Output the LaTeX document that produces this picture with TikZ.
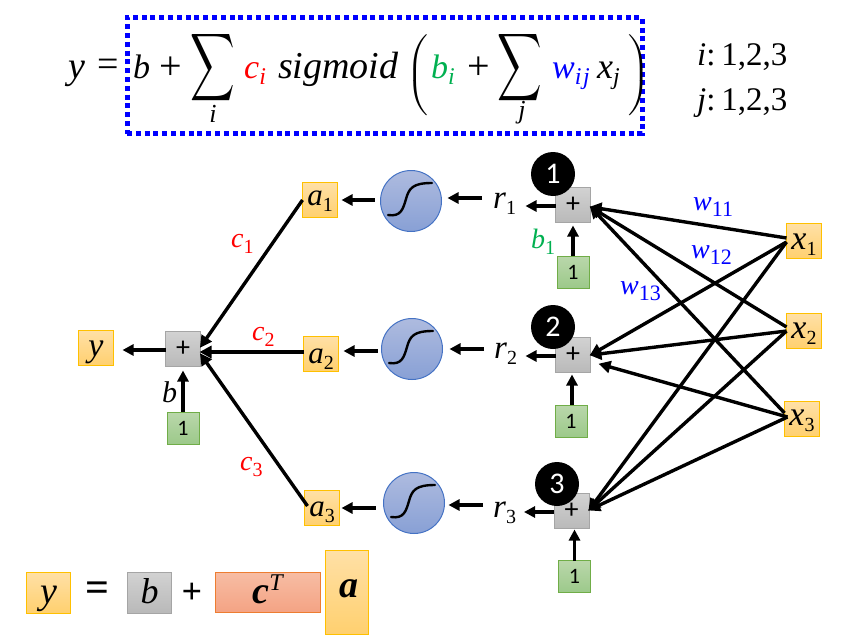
\RequirePackage{fix-cm}
\documentclass[tikz,border=0pt]{standalone}
\usepackage{amsmath}
\usepackage{fontspec}
\setmainfont{Liberation Serif}
\usetikzlibrary{arrows.meta}
\newfontfamily\calfont{Carlito}
\definecolor{myblue}{HTML}{0000FF}
\definecolor{mygreen}{HTML}{00B050}
\newcommand{\fs}[1]{\fontsize{#1}{#1}\selectfont}
\newcommand{\vs}[3][20]{\textit{#2}\raisebox{-6pt}{\fs{#1}#3}}
\newcommand{\sigcurve}[1]{\draw[line width=2.4pt,line cap=round,shift={(#1.center)}] (-23,14) .. controls (-10,16) and (-8,8) .. (-5,-2) .. controls (-2,-13) and (2,-18) .. (21,-18);}
\definecolor{orangeT}{HTML}{FFE0A6}
\definecolor{orangeB}{HTML}{FFD06F}
\definecolor{orangeD}{HTML}{FFC000}
\definecolor{grayT}{HTML}{D2D2D2}
\definecolor{grayB}{HTML}{B9B9B9}
\definecolor{grayD}{HTML}{A5A5A5}
\definecolor{greenT}{HTML}{BAD7AB}
\definecolor{greenB}{HTML}{9CC98A}
\definecolor{greenD}{HTML}{70AD47}
\definecolor{blueT}{HTML}{AEBBDF}
\definecolor{blueB}{HTML}{88A0D5}
\definecolor{blueD}{HTML}{4472C4}
\definecolor{salT}{HTML}{F7BDA4}
\definecolor{salB}{HTML}{F4A384}
\definecolor{salD}{HTML}{ED7D31}
\tikzset{
  x=1pt,y=-1pt,
  base/.style={inner sep=0pt,outer sep=0pt,minimum size=35pt,line width=1pt,font=\fs{31}},
  orangebox/.style={base,draw=orangeD,top color=orangeT,bottom color=orangeB},
  graybox/.style={base,draw=grayD,top color=grayT,bottom color=grayB,font=\calfont\fs{28}},
  greenbox/.style={base,minimum size=32pt,draw=greenD,top color=greenT,bottom color=greenB,font=\calfont\fs{22}},
  sigma/.style={circle,inner sep=0pt,outer sep=0pt,minimum size=61pt,line width=1pt,draw=blueD,top color=blueT,bottom color=blueB},
  badge/.style={circle,fill=black,text=white,inner sep=0pt,minimum size=44pt,font=\calfont\fs{30}},
  lab/.style={inner sep=0pt,anchor=base west,font=\fs{28}},
  eq/.style={inner sep=0pt,font=\fs{36}},
  eqb/.style={inner sep=0pt,anchor=base west,font=\fs{36}},
  bsh/.style={text depth=0pt,text height=#1},
  conn/.style={line width=3.4pt,-{Triangle[length=11pt,width=11pt]}},
  conm/.style={line width=3.4pt,-{Triangle[length=12pt,width=12pt]},shorten >=-1pt},
}
\begin{document}
\begin{tikzpicture}
\useasboundingbox (0,0) rectangle (853,642);
% formula
\node[draw=myblue,line width=5pt,dash pattern=on 5pt off 3.8pt,minimum width=515pt,minimum height=116pt,inner sep=0pt] (frame) at (384.5,75.5) {};
\node[eqb,font=\fs{38}] (fy) at (68,78) {\textit{y}};
\node[eq,font=\fs{38}] (feq) at (108,68) {=};
\node[eqb,font=\fs{34}] (fb) at (133,78) {\textit{b}};
\node[eq,font=\fs{40}] (fp1) at (171,68) {+};
\node[eq] (fs1) at (212.5,67.5) {\scalebox{1.24}[1.9]{$\displaystyle\sum$}};
\node[eq,anchor=base,font=\fs{26}] (fi) at (213,122) {\textit{i}};
\node[eqb,text=red,font=\fs{34}] (fc) at (244,78) {\vs[24]{c}{\textit{i}}};
\node[eqb,font=\fs{38}] (fsig) at (278,78) {\textit{sigmoid}};
\node[eq] (flp) at (417,75) {\scalebox{1}[0.78]{$\Bigg($}};
\node[eqb,text=mygreen,font=\fs{34}] (fbi) at (431,78) {\vs[24]{b}{\textit{i}}};
\node[eq,font=\fs{40}] (fp2) at (478.5,68) {+};
\node[eq] (fs2) at (520,67.5) {\scalebox{1.24}[1.9]{$\displaystyle\sum$}};
\node[eq,anchor=base,font=\fs{26}] (fj) at (522,118) {\textit{j}};
\node[eqb,text=myblue,font=\fs{34}] (fw) at (552,78) {\vs[24]{w}{\textit{i\kern1.5pt j}}};
\node[eqb] (fx) at (597,78) {\vs[24]{x}{\textit{j}}};
\node[eq] (frp) at (639,75) {\scalebox{1}[0.78]{$\Bigg)$}};
\node[eq,anchor=west,font=\fs{33}] (ri) at (697,57) {{\spaceskip=3pt\textit{i}: 1,2,3}};
\node[eq,anchor=west,font=\fs{33}] (rj) at (697,103) {{\spaceskip=3pt\textit{j}: 1,2,3}};
% left part
\node[orangebox,font=\fs{34},bsh=16pt] (y) at (96,348) {\textit{y}};
\node[graybox] (p0) at (183,349) {+};
\node[greenbox] (o0) at (183,428) {1};
\node[lab,font=\fs{30}] (lb) at (162,402) {\textit{b}};
\node[orangebox,bsh=10pt] (a1) at (320,200) {\vs{a}{1}};
\node[orangebox,bsh=18pt] (a2) at (321,354) {\vs{a}{2}};
\node[orangebox,bsh=16pt] (a3) at (322,508) {\vs{a}{3}};
\node[lab,text=red] (c1) at (231,247) {\vs{c}{1}};
\node[lab,text=red] (c2) at (252,340) {\vs{c}{2}};
\node[lab,text=red] (c3) at (240,470) {\vs{c}{3}};
\node[sigma] (s1) at (411,201) {};
\node[sigma] (s2) at (412,349) {};
\node[sigma] (s3) at (414,503) {};
\sigcurve{s1}\sigcurve{s2}\sigcurve{s3}
\node[lab,font=\fs{33}] (r1) at (493,208) {\vs{r}{1}};
\node[lab,font=\fs{33}] (r2) at (494,358) {\vs{r}{2}};
\node[lab,font=\fs{33}] (r3) at (493,517) {\vs{r}{3}};
\node[graybox] (p1) at (573,205) {+};
\node[graybox] (p2) at (573,355) {+};
\node[graybox] (p3) at (571.5,511) {+};
\node[greenbox] (o1) at (573,272) {1};
\node[greenbox] (o2) at (571,421) {1};
\node[greenbox] (o3) at (574.5,576.5) {1};
\node[badge] (n1) at (553,174) {1};
\node[badge] (n2) at (553,327) {2};
\node[badge] (n3) at (557,484) {3};
\node[orangebox,font=\fs{34},bsh=16pt] (x1) at (804,241) {\vs{x}{1}};
\node[orangebox,font=\fs{34},bsh=14pt] (x2) at (804,331) {\vs{x}{2}};
\node[orangebox,font=\fs{34},bsh=12pt] (x3) at (802,419) {\vs{x}{3}};
\node[lab,text=myblue] (w1) at (693,210) {\vs[22]{w}{11}};
\node[lab,text=myblue] (w2) at (691,258) {\vs[22]{w}{12}};
\node[lab,text=myblue] (w3) at (620,294) {\vs[22]{w}{13}};
\node[lab,text=mygreen] (b1) at (531,248) {\vs{b}{1}};
% connectors
\draw[conn] ([yshift=-1pt]p0.west) -- ([shift={(9,2)}]y.east);
\draw[conn] (o0.north) -- ([yshift=-4pt]p0.south);
\draw[conm] (a1.west) -- ([yshift=2pt]p0.east);
\draw[conm] ([yshift=2pt]a2.west) -- ([yshift=-3pt]p0.east);
\draw[conm] ([shift={(3,-2)}]a3.west) -- ([yshift=-5pt]p0.east);
\draw[conn] ([shift={(-6,-1)}]s1.west) -- ([xshift=4pt]a1.east);
\draw[conn] ([shift={(-4,2)}]s2.west) -- ([shift={(5,-3)}]a2.east);
\draw[conn] ([shift={(-8,5)}]s3.west) -- ([xshift=2pt]a3.east);
\draw[conn] ([shift={(-11,-10)}]r1.base west) -- ([shift={(6,-3)}]s1.east);
\draw[conn] ([shift={(-10,-9)}]r2.base west) -- ([xshift=7pt]s2.east);
\draw[conn] ([shift={(-10,-12)}]r3.base west) -- ([shift={(4,2)}]s3.east);
\draw[conn] ([yshift=-1pt]p1.west) -- +(-30,0);
\draw[conn] ([yshift=-1pt]p2.west) -- +(-30,0);
\draw[conn] ([yshift=-1pt]p3.west) -- +(-30,0);
\draw[conn] (o1.north) -- ([yshift=-3pt]p1.south);
\draw[conn] ([xshift=1pt]o2.north) -- ([shift={(-1,2)}]p2.south);
\draw[conn] (o3.north) -- ([xshift=3pt,yshift=-1pt]p3.south);
\draw[conm] ([yshift=3pt]x1.west) -- ([yshift=-2pt]p1.east);
\draw[conm] ([yshift=4pt]x2.west) -- ([yshift=-2pt]p1.east);
\draw[conm] ([yshift=6pt]x3.west) -- ([yshift=-2pt]p1.east);
\draw[conm] ([yshift=-1pt]x1.west) -- (p2.east);
\draw[conm] (x2.west) -- (p2.east);
\draw[conm] ([shift={(3,-2)}]x3.west) -- ([shift={(9,9)}]p2.east);
\draw[conm] ([yshift=-1pt]x1.west) -- ([yshift=1pt]p3.east);
\draw[conm] (x2.west) -- ([yshift=1pt]p3.east);
\draw[conm] ([shift={(3,-2)}]x3.west) -- ([yshift=1pt]p3.east);
% bottom row
\node[orangebox,minimum width=44pt,minimum height=41pt,font=\fs{38},bsh=21pt] (by) at (48.5,592.5) {\textit{y}};
\node[eq,font=\bfseries\fs{42}] (beq) at (97,592) {=};
\node[graybox,minimum width=44pt,minimum height=41pt,font=\fs{36},bsh=22pt] (bb) at (149.5,592.5) {\textit{b}};
\node[eq,font=\bfseries\fs{36}] (bp) at (192,593) {+};
\node[base,draw=salD,top color=salT,bottom color=salB,minimum width=105pt,minimum height=40pt,font=\bfseries\itshape\fs{38},bsh=22pt] (bc) at (267.5,592) {c\raisebox{13pt}{\mdseries\fs{24}T}};
\node[orangebox,minimum width=43pt,minimum height=84pt] (ba) at (347,592.5) {};
\node[eq,anchor=base,font=\bfseries\itshape\fs{38}] (bat) at (348.5,597) {a};
\end{tikzpicture}
\end{document}
